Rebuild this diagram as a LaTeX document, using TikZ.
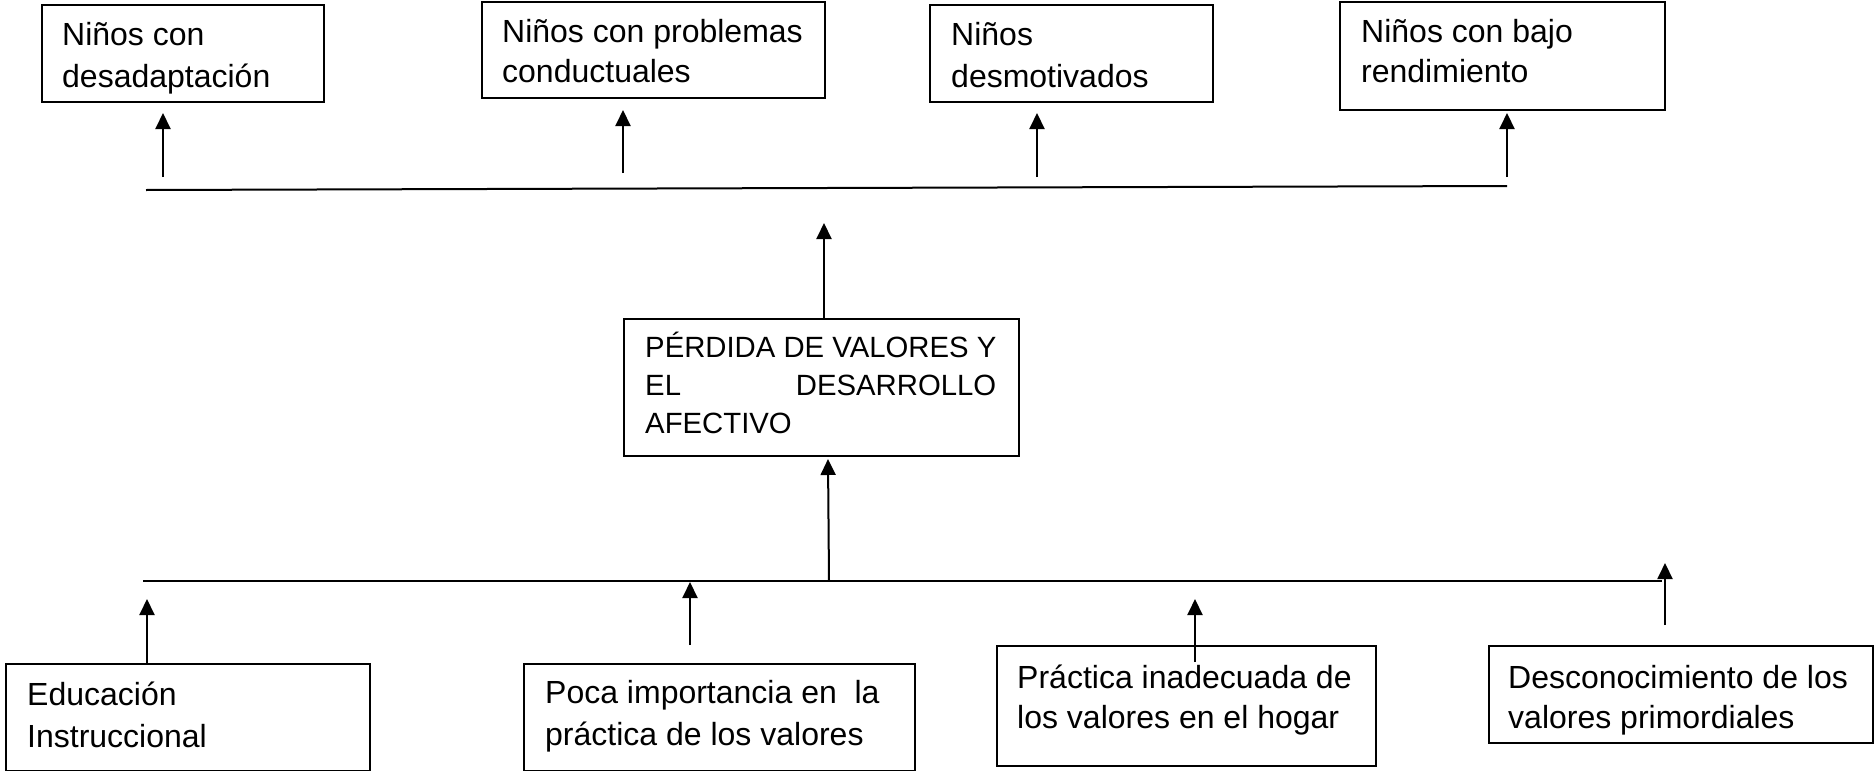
\documentclass[tikz,border=0pt]{standalone}
\usepackage{fontspec}
\setmainfont{Liberation Sans}
\usetikzlibrary{arrows.meta}
\begin{document}
\begin{tikzpicture}[x=1pt,y=-1pt,
  box/.style={draw, line width=1.6pt, inner sep=0pt, anchor=north west},
  lbl/.style={anchor=base west, inner sep=0pt, font=\fontsize{32}{38}\selectfont},
  clbl/.style={anchor=base west, inner sep=0pt, font=\fontsize{29.3}{38}\selectfont},
  ln/.style={line width=2pt},
  arr/.style={line width=2pt, -{Triangle[length=16pt,width=15pt]}}]
\useasboundingbox (0,0) rectangle (1874,771);

% effect boxes (top)
\node[box, minimum width=282pt, minimum height=97pt] (e1) at (41,4) {};
\node[box, minimum width=343pt, minimum height=96pt] (e2) at (481,1) {};
\node[box, minimum width=283pt, minimum height=97pt] (e3) at (929,4) {};
\node[box, minimum width=325pt, minimum height=108pt] (e4) at (1339,1) {};
\node[lbl] (e1a) at (62,45) {Niños con};
\node[lbl] (e1b) at (62,87) {desadaptación};
\node[lbl] (e2a) at (502,42) {Niños con problemas};
\node[lbl] (e2b) at (502,82) {conductuales};
\node[lbl] (e3a) at (951,45) {Niños};
\node[lbl] (e3b) at (951,87) {desmotivados};
\node[lbl] (e4a) at (1361,42) {Niños con bajo};
\node[lbl] (e4b) at (1361,82) {rendimiento};

% central problem
\node[box, minimum width=395pt, minimum height=137pt] (c) at (623,318) {};
\node[clbl] (ca) at (645,357) {PÉRDIDA DE VALORES Y};
\node[clbl] (cb) at (645,395) {\makebox[351pt][s]{EL\hfill DESARROLLO}};
\node[clbl] (cc) at (645,433) {AFECTIVO};

% cause boxes (bottom)
\node[box, minimum width=364pt, minimum height=107pt] (k1) at (5,663) {};
\node[box, minimum width=391pt, minimum height=107pt] (k2) at (523,663) {};
\node[box, minimum width=379pt, minimum height=120pt] (k3) at (996,645) {};
\node[box, minimum width=384pt, minimum height=97pt] (k4) at (1488,645) {};
\node[lbl] (k1a) at (27,705) {Educación};
\node[lbl] (k1b) at (27,747) {Instruccional};
\node[lbl] (k2a) at (545,703) {Poca importancia en\ \ la};
\node[lbl] (k2b) at (545,745) {práctica de los valores};
\node[lbl] (k3a) at (1017,688) {Práctica inadecuada de};
\node[lbl] (k3b) at (1017,728) {los valores en el hogar};
\node[lbl] (k4a) at (1508,688) {Desconocimiento de los};
\node[lbl] (k4b) at (1508,728) {valores primordiales};

% coordinates
\coordinate (tl) at (146,190);
\coordinate (tr) at (1507,186);
\coordinate (bl) at (143,581);
\coordinate (br) at (1662,581);
\coordinate (s1) at (163,177); \coordinate (t1) at (163,113);
\coordinate (s2) at (623,173); \coordinate (t2) at (623,110);
\coordinate (s3) at (1037,177); \coordinate (t3) at (1037,113);
\coordinate (s4) at (1507,177); \coordinate (t4) at (1507,113);
\coordinate (mt) at (824,223);
\coordinate (mb) at (829,581); \coordinate (mbt) at (828,459);
\coordinate (t5) at (147,599);
\coordinate (s6) at (690,645); \coordinate (t6) at (690,582);
\coordinate (s7) at (1195,662); \coordinate (t7) at (1195,599);
\coordinate (s8) at (1665,625); \coordinate (t8) at (1665,563);

% lines
\draw[ln] (tl) -- (tr);
\draw[ln] (bl) -- (br);

% arrows
\draw[arr] (s1) -- (t1);
\draw[arr] (s2) -- (t2);
\draw[arr] (s3) -- (t3);
\draw[arr] (s4) -- (t4);
\draw[arr] (c.north -| mt) -- (mt);
\draw[arr] (mb) -- (mbt);
\draw[arr] (k1.north -| t5) -- (t5);
\draw[arr] (s6) -- (t6);
\draw[arr] (s7) -- (t7);
\draw[arr] (s8) -- (t8);
\end{tikzpicture}
\end{document}
